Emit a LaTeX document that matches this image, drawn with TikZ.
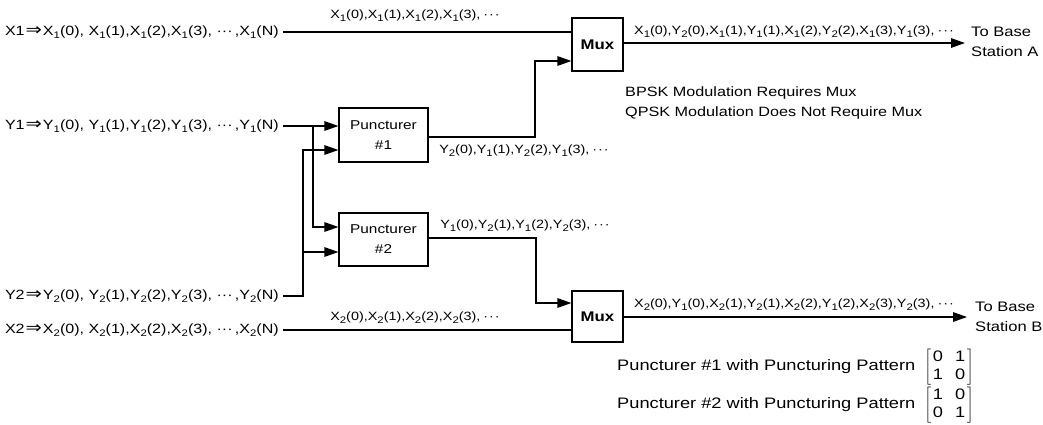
\documentclass[tikz,border=0pt]{standalone}
\usepackage{fontspec}
\setmainfont{Liberation Sans}[FakeStretch=1.2]
\newfontfamily\djv{DejaVu Sans}
\usetikzlibrary{arrows.meta}
\newcommand\lo[1]{\raisebox{-0.45ex}{\fontsize{9.5}{10}\selectfont #1}}
\newcommand\dts{\hspace{0.25em}·\hspace{0.08em}·\hspace{0.08em}·}
\newcommand\darr{\hspace{1pt}\raisebox{-0.5pt}{\scalebox{1.45}[1.25]{\djv ⇒}}\hspace{1pt}}
\newcommand\pmat[4]{$\renewcommand\arraystretch{1.12}\left[\begin{array}{@{\hspace{2pt}}c@{\hspace{12pt}}c@{\hspace{2pt}}}\mbox{#1}&\mbox{#2}\\\mbox{#3}&\mbox{#4}\end{array}\right]$}
\begin{document}
\begin{tikzpicture}[x=1pt,y=-1pt,
  txt/.style={font=\fontsize{12}{14.5}\selectfont, inner sep=0pt},
  intxt/.style={font=\fontsize{13.4}{14.5}\selectfont, inner sep=0pt, anchor=east},
  box/.style={draw, line width=1.1pt, align=center, inner sep=0pt, font=\fontsize{12.8}{20}\selectfont},
  muxbox/.style={draw, line width=1.1pt, inner sep=0pt, minimum width=51pt, font=\fontsize{14}{15}\selectfont\bfseries},
  wire/.style={line width=1.3pt},
  arr/.style={wire, -{Triangle[length=14pt,width=9.5pt]}}]
\useasboundingbox (0,0) rectangle (1043,424);

% blocks
\node[muxbox, minimum height=53pt] (muxA) at (597.5,44.5) {Mux};
\node[muxbox, minimum height=51pt] (muxB) at (597.5,316.5) {Mux};
\node[box, minimum width=89pt, minimum height=54pt] (p1) at (383.5,135) {Puncturer\\\#1};
\node[box, minimum width=89pt, minimum height=53pt] (p2) at (383.5,239.5) {Puncturer\\\#2};

% inputs
\node[intxt] (x1) at (279,32) {X1\darr X\lo{1}(0), X\lo{1}(1),X\lo{1}(2),X\lo{1}(3), ···\,,X\lo{1}(N)};
\node[intxt] (y1) at (279,126) {Y1\darr Y\lo{1}(0), Y\lo{1}(1),Y\lo{1}(2),Y\lo{1}(3), ···\,,Y\lo{1}(N)};
\node[intxt] (y2) at (279,296) {Y2\darr Y\lo{2}(0), Y\lo{2}(1),Y\lo{2}(2),Y\lo{2}(3), ···\,,Y\lo{2}(N)};
\node[intxt] (x2) at (279,330) {X2\darr X\lo{2}(0), X\lo{2}(1),X\lo{2}(2),X\lo{2}(3), ···\,,X\lo{2}(N)};

% junctions and ends
\coordinate (j1) at (313,126);
\coordinate (j2) at (303,252);
\coordinate (k1) at (535,137);
\coordinate (k2) at (536,238);
\coordinate (toA) at (965,43);
\coordinate (toB) at (967,317);

% wires
\draw[wire] ([xshift=4pt]x1.east) -- (muxA.west |- x1.east);
\draw[arr] ([xshift=4pt]y1.east) -- (p1.west |- y1.east);
\draw[arr] (j1) |- (p2.west |- 0,227);
\draw[arr] ([xshift=4pt]y2.east) -| (303,150) -- (p1.west |- 0,150);
\draw[arr] (j2) -- (p2.west |- j2);
\draw[wire] ([xshift=4pt]x2.east) -- (muxB.west |- x2.east);
\draw[arr] (p1.east |- k1) -- (k1) |- (muxA.west |- 0,61);
\draw[arr] (p2.east |- k2) -- (k2) |- (muxB.west |- 0,303);
\draw[arr] (muxA.east |- toA) -- (toA);
\draw[arr] (muxB.east |- toB) -- (toB);

% wire labels
\node[txt] (lx1) at (415,16) {X\lo{1}(0),X\lo{1}(1),X\lo{1}(2),X\lo{1}(3),\dts};
\node[txt] (lx2) at (415,318) {X\lo{2}(0),X\lo{2}(1),X\lo{2}(2),X\lo{2}(3),\dts};
\node[txt] (lp1) at (524,151) {Y\lo{2}(0),Y\lo{1}(1),Y\lo{2}(2),Y\lo{1}(3),\dts};
\node[txt] (lp2) at (525,226) {Y\lo{1}(0),Y\lo{2}(1),Y\lo{1}(2),Y\lo{2}(3),\dts};
\node[txt] (la) at (794,32) {X\lo{1}(0),Y\lo{2}(0),X\lo{1}(1),Y\lo{1}(1),X\lo{1}(2),Y\lo{2}(2),X\lo{1}(3),Y\lo{1}(3),\dts};
\node[txt] (lb) at (794,305) {X\lo{2}(0),Y\lo{1}(0),X\lo{2}(1),Y\lo{2}(1),X\lo{2}(2),Y\lo{1}(2),X\lo{2}(3),Y\lo{2}(3),\dts};

% destinations
\node[txt, anchor=west, align=left, font=\fontsize{13.8}{19.5}\selectfont] (sa) at (971,42) {To Base\\Station A};
\node[txt, anchor=west, align=left, font=\fontsize{13.8}{19.5}\selectfont] (sb) at (975,317) {To Base\\Station B};

% notes
\node[txt, anchor=west, align=left, font=\fontsize{13.5}{20}\selectfont] (note) at (625,103) {BPSK Modulation Requires Mux\\QPSK Modulation Does Not Require Mux};
\node[txt, anchor=west, font=\fontsize{15.2}{16}\selectfont] (pat1) at (617,367) {Puncturer \#1 with Puncturing Pattern\hspace{9pt}\pmat{0}{1}{1}{0}};
\node[txt, anchor=west, font=\fontsize{15.2}{16}\selectfont] (pat2) at (617,405) {Puncturer \#2 with Puncturing Pattern\hspace{9pt}\pmat{1}{0}{0}{1}};
\end{tikzpicture}
\end{document}
